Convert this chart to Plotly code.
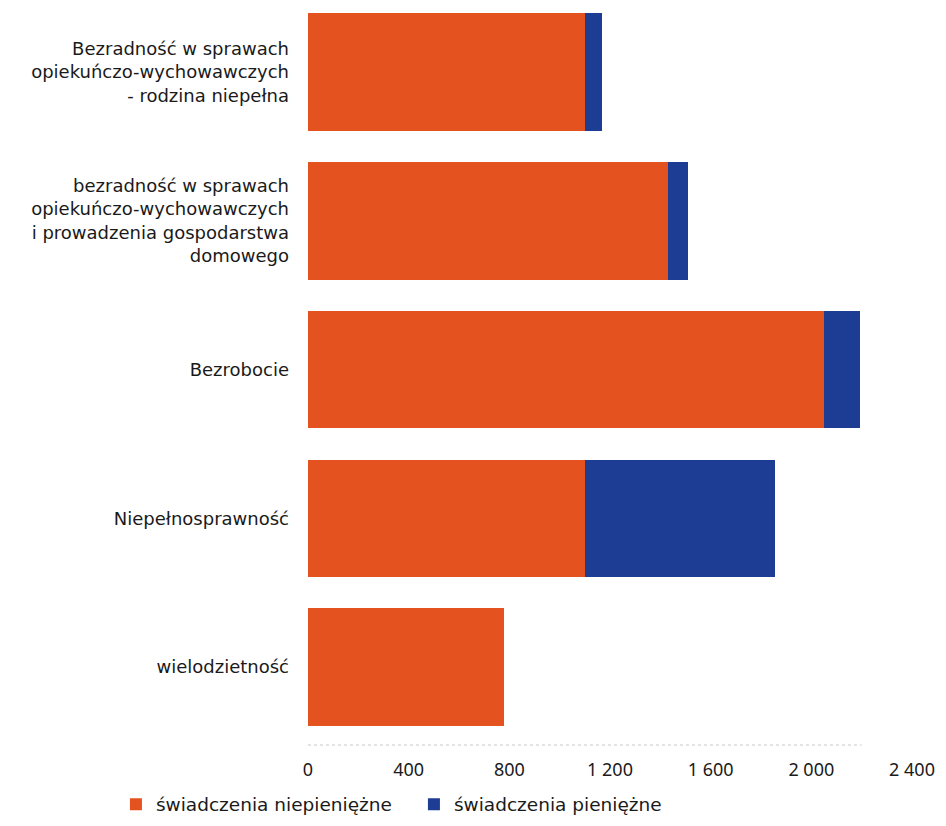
import plotly.graph_objects as go

categories = [
    "Bezradność w sprawach<br>opiekuńczo-wychowawczych<br>- rodzina niepełna",
    "bezradność w sprawach<br>opiekuńczo-wychowawczych<br>i prowadzenia gospodarstwa<br>domowego",
    "Bezrobocie",
    "Niepełnosprawność",
    "wielodzietność",
]
niepieniezne = [1100, 1430, 2050, 1100, 780]
pieniezne = [70, 80, 145, 755, 0]

series_names = ["świadczenia niepieniężne", "świadczenia pieniężne"]
tick_vals = [0, 400, 800, 1200, 1600, 2000, 2400]
tick_text = ["0", "400", "800", "1 200", "1 600", "2 000", "2 400"]

FONT = "DejaVu Sans"
fig = go.Figure()
fig.add_trace(go.Bar(y=categories, x=niepieniezne, orientation="h",
                     name=series_names[0], marker=dict(color="#E4531F", line=dict(width=0))))
fig.add_trace(go.Bar(y=categories, x=pieniezne, orientation="h",
                     name=series_names[1], marker=dict(color="#1D3D95", line=dict(width=0))))

fig.update_layout(
    width=938, height=818,
    barmode="stack", bargap=0.21,
    paper_bgcolor="white", plot_bgcolor="white",
    margin=dict(l=300, r=34, t=0, b=81, autoexpand=False),
    font=dict(family=FONT, size=18, color="#1a1a1a"),
    xaxis=dict(range=[0, 2400], tickvals=tick_vals, ticktext=tick_text,
               showgrid=False, zeroline=False, showline=False,
               ticks="", ticklabelstandoff=12,
               tickfont=dict(family="Noto Sans", size=18, color="#1a1a1a")),
    yaxis=dict(categoryorder="array", categoryarray=categories,
               range=[4.524, -0.43], showgrid=False, zeroline=False,
               ticks="", ticklabelstandoff=18, tickfont=dict(size=18, color="#1a1a1a")),
    legend=dict(orientation="h", x=-0.318, xanchor="left", y=-0.081, yanchor="middle",
                font=dict(size=18.5, color="#1a1a1a"), entrywidth=253, entrywidthmode="pixels",
                traceorder="normal"),
    showlegend=True,
    shapes=[dict(type="line", xref="x", yref="paper", x0=0, x1=2200, y0=0, y1=0,
                 line=dict(color="#c8c8c8", width=1, dash="dot"))],
)

fig.write_html("out.html")
